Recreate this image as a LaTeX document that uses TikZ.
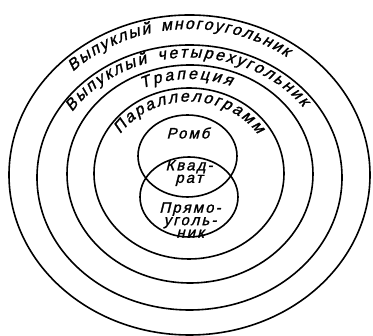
\documentclass[tikz,border=0pt]{standalone}
\usepackage{fontspec}
\setmainfont{Liberation Sans}
\newfontfamily\gost[LetterSpace=14,FakeSlant=0.25,FakeBold=1.5]{Liberation Sans}
\usetikzlibrary{shapes.geometric,decorations.text}
\begin{document}
\begin{tikzpicture}[x=1pt,y=1pt,
  ring/.style={ellipse, draw, line width=1.6pt, inner sep=0pt},
  lbl/.style={font=\gost\fontsize{15}{12.5}\selectfont, align=center, inner sep=0pt},
  arclbl/.style={decorate, decoration={text along path, text align=fit to path, text={|\gost\fontsize{16}{16}\selectfont|#1}}}]
\useasboundingbox (0,0) rectangle (373,336);
% rings
\node[ring, minimum width=361pt, minimum height=320pt] (r1) at (189.5,161) {};
\node[ring, minimum width=305pt, minimum height=265pt] (r2) at (189.5,158.5) {};
\node[ring, minimum width=246pt, minimum height=218pt] (r3) at (190,162) {};
\node[ring, minimum width=190pt, minimum height=171pt] (r4) at (189,162.5) {};
\node[ring, minimum width=99pt, minimum height=82pt] (romb) at (187.5,180) {};
\node[ring, minimum width=98pt, minimum height=80pt] (rect) at (189,139) {};
% inner labels
\node[lbl] (tromb) at (188,203) {Ромб};
\node[lbl] (tsq) at (189,163) {Квад-\\рат};
\node[lbl] (trect) at (190,116) {Прямо-\\уголь-\\ник};
% curved labels
\path[arclbl={Выпуклый многоугольник}] (189.5,161) ++(135:165 and 146)
  arc[start angle=135, end angle=54, x radius=165, y radius=146];
\path[arclbl={Выпуклый четырехугольник}] (189.5,158.5) ++(147:140 and 120)
  arc[start angle=147, end angle=36, x radius=140, y radius=120];
\path[arclbl={Трапеция}] (190,162) ++(116:109 and 95)
  arc[start angle=116, end angle=68, x radius=109, y radius=95];
\path[arclbl={Параллелограмм}] (189,162.5) ++(147:82 and 72)
  arc[start angle=147, end angle=33, x radius=82, y radius=72];
\end{tikzpicture}
\end{document}
